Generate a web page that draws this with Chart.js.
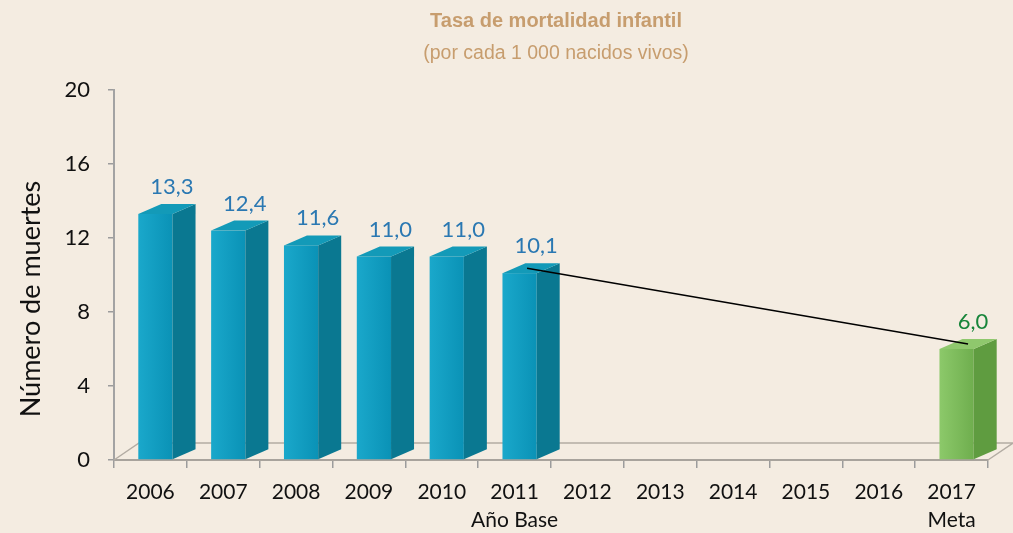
<!DOCTYPE html>
<html>
<head>
<meta charset="utf-8">
<script src="https://cdn.jsdelivr.net/npm/chart.js@4/dist/chart.umd.min.js"></script>
<style>
  html, body { margin: 0; padding: 0; background: #f4ece1; }
  #wrap { width: 1013px; height: 533px; position: relative; }
</style>
</head>
<body>
<div id="wrap"><canvas id="mortChart"></canvas></div>
<script>
// --- data ---
const years = ['2006', '2007', '2008', '2009', '2010', ['2011', 'Año Base'],
               '2012', '2013', '2014', '2015', '2016', ['2017', 'Meta']];
const rates = [13.3, 12.4, 11.6, 11.0, 11.0, 10.1, null, null, null, null, null, 6.0];
const yTicks = [0, 4, 8, 12, 16, 20];
const baseIdx = 5;   // Año Base
const metaIdx = 11;  // Meta

const DX = 23, DY = -10;   // 3D depth of the bars
const FDX = 25, FDY = -17; // 3D depth of the floor
const SHIFT = 5;           // bars sit a bit right of the category centre

function fmt(v) { return v.toFixed(1).replace('.', ','); }

// 3D look: floor before the bars, faces, labels and trend line after
const pseudo3d = {
    id: 'pseudo3d',
    afterDatasetsUpdate(chart) {
        chart.getDatasetMeta(0).data.forEach(el => { el.x += SHIFT; });
    },
    beforeDatasetsDraw(chart) {
        const { ctx, chartArea: a } = chart;
        ctx.save();
        ctx.strokeStyle = '#b3aca3';
        ctx.lineWidth = 1.5;
        ctx.beginPath();
        ctx.moveTo(a.left, a.bottom);
        ctx.lineTo(a.left + FDX, a.bottom + FDY);
        ctx.lineTo(a.right + FDX, a.bottom + FDY);
        ctx.lineTo(a.right, a.bottom);
        ctx.stroke();
        ctx.restore();
    },
    afterDatasetsDraw(chart) {
        const { ctx } = chart;
        const meta = chart.getDatasetMeta(0);
        ctx.save();
        meta.data.forEach((bar, i) => {
            if (rates[i] == null) return;
            const green = i === metaIdx;
            const w = bar.width;
            const r = bar.x + w / 2, l = bar.x - w / 2;
            const top = bar.y, base = bar.base;
            // front face with a soft horizontal shade
            const g = ctx.createLinearGradient(l, 0, r, 0);
            g.addColorStop(0, green ? '#8cc96a' : '#1aa8cb');
            g.addColorStop(1, green ? '#6fae4e' : '#0a92b6');
            ctx.fillStyle = g;
            ctx.fillRect(l, top, w, base - top);
            // side face
            ctx.fillStyle = green ? '#5f9c40' : '#0a7891';
            ctx.beginPath();
            ctx.moveTo(r, top);
            ctx.lineTo(r + DX, top + DY);
            ctx.lineTo(r + DX, base + DY);
            ctx.lineTo(r, base);
            ctx.closePath();
            ctx.fill();
            // top face
            ctx.fillStyle = green ? '#8fc86d' : '#139ab8';
            ctx.beginPath();
            ctx.moveTo(l, top);
            ctx.lineTo(l + DX, top + DY);
            ctx.lineTo(r + DX, top + DY);
            ctx.lineTo(r, top);
            ctx.closePath();
            ctx.fill();
        });

        // trend line from base year to goal
        const b = meta.data[baseIdx], m = meta.data[metaIdx];
        ctx.strokeStyle = '#000';
        ctx.lineWidth = 1.5;
        ctx.beginPath();
        ctx.moveTo(b.x + DX / 2 - 4, b.y + DY / 2);
        ctx.lineTo(m.x + DX / 2, m.y + DY / 2);
        ctx.stroke();

        // value labels
        ctx.font = '22px Lato';
        ctx.textAlign = 'center';
        ctx.textBaseline = 'alphabetic';
        meta.data.forEach((bar, i) => {
            if (rates[i] == null) return;
            ctx.fillStyle = i === metaIdx ? '#17853a' : '#2a78b2';
            ctx.fillText(fmt(rates[i]), bar.x + DX / 2 + 5, bar.y + DY - 10);
        });
        ctx.restore();
    },
    afterDraw(chart) {
        const { ctx } = chart;
        ctx.save();
        ctx.textAlign = 'center';
        ctx.textBaseline = 'middle';
        ctx.fillStyle = '#c79d6e';
        ctx.font = 'bold 20px "Liberation Sans"';
        ctx.fillText('Tasa de mortalidad infantil', 556, 21);
        ctx.font = '19.5px "Liberation Sans"';
        ctx.fillText('(por cada 1 000 nacidos vivos)', 556, 54);
        // y axis title
        ctx.translate(31, 299);
        ctx.rotate(-Math.PI / 2);
        ctx.fillStyle = '#111';
        ctx.font = '27px Lato';
        ctx.fillText('Número de muertes', 0, 0);
        ctx.restore();
    }
};

const ctx = document.getElementById('mortChart').getContext('2d');

new Chart(ctx, {
    type: 'bar',
    data: {
        labels: years,
        datasets: [{
            data: rates,
            backgroundColor: 'rgba(0,0,0,0)',
            borderWidth: 0,
            categoryPercentage: 1,
            barPercentage: 0.47
        }]
    },
    options: {
        responsive: true,
        maintainAspectRatio: false,
        animation: false,
        layout: { padding: { top: 90, right: 25, left: 0, bottom: 0 } },
        plugins: {
            legend: { display: false },
            tooltip: { enabled: false }
        },
        scales: {
            x: {
                offset: true,
                grid: {
                    offset: true,
                    drawOnChartArea: false,
                    drawTicks: true,
                    tickLength: 8,
                    color: '#9c9c9c',
                    lineWidth: 1.5
                },
                border: { color: '#a8a39c', width: 2 },
                ticks: {
                    color: '#111',
                    padding: 10,
                    maxRotation: 0,
                    autoSkip: false,
                    font: { family: 'Lato', size: 21, lineHeight: 1.35 }
                },
                afterFit(scale) { scale.height = 73; }
            },
            y: {
                min: 0,
                max: 20,
                afterBuildTicks(scale) { scale.ticks = yTicks.map(v => ({ value: v })); },
                grid: {
                    drawOnChartArea: false,
                    drawTicks: true,
                    tickLength: 6,
                    color: '#9c9c9c',
                    lineWidth: 1.5
                },
                border: { color: '#a3a3a3', width: 2 },
                ticks: {
                    color: '#111',
                    padding: 18,
                    font: { family: 'Lato', size: 22 }
                },
                afterFit(scale) { scale.width = 114; }
            }
        }
    },
    plugins: [pseudo3d]
});
</script>
</body>
</html>
